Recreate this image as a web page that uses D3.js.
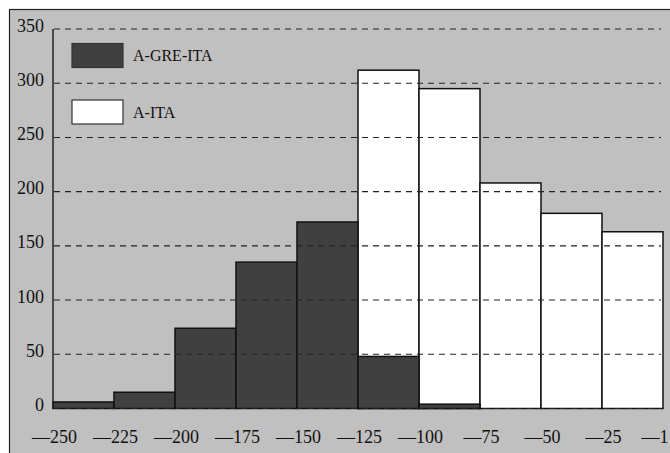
<!DOCTYPE html>
<html lang="en">
  <head>
    <meta charset="utf-8">
    <title>Histogram</title>
    <script src="https://cdn.jsdelivr.net/npm/d3@7"></script>
    <style>
      body { margin: 0; background: #fff; }
      svg { display: block; }
      text { font-family: 'Liberation Serif', 'Times New Roman', serif; fill: #111; }
    </style>
  </head>
  <body>
    <div id='chart'></div>

    <script type='text/javascript'>
      // bin left edges (width 25)
      let binStarts = [-250, -225, -200, -175, -150, -125, -100, -75, -50, -25];
      let greIta = [6, 15, 74, 135, 172, 48, 4, 0, 0, 0];
      let ita = [0, 0, 0, 0, 0, 312, 295, 208, 180, 163];
      let xTicks = [-250, -225, -200, -175, -150, -125, -100, -75, -50, -25, 0];
      let xTickLabels = ['—250', '—225', '—200', '—175', '—150', '—125', '—100', '—75', '—50', '—25', '—1'];
      let yTicks = [0, 50, 100, 150, 200, 250, 300, 350];
      let seriesNames = ['A-GRE-ITA', 'A-ITA'];
      let binWidth = 25;

      let width = 670, height = 453;
      let svg = d3.select('#chart').append('svg')
        .attr('width', width)
        .attr('height', height);

      // outer frame
      svg.append('rect')
        .attr('x', 9.5).attr('y', 9.5)
        .attr('width', 700).attr('height', 500)
        .attr('fill', '#c0c0c0')
        .attr('stroke', '#222')
        .attr('stroke-width', 1.2);

      let x = d3.scaleLinear().domain([-250, 0]).range([53, 663]);
      let y = d3.scaleLinear().domain([0, 350]).range([408.5, 29]);

      // white series behind, dark series in front
      svg.append('g').selectAll('rect')
        .data(binStarts.map((s, i) => ({s: s, v: ita[i]})).filter(d => d.v > 0))
        .enter().append('rect')
        .attr('x', d => x(d.s))
        .attr('y', d => y(d.v))
        .attr('width', d => x(d.s + binWidth) - x(d.s))
        .attr('height', d => y(0) - y(d.v))
        .attr('fill', '#fff')
        .attr('stroke', '#111')
        .attr('stroke-width', 1.5);

      svg.append('g').selectAll('rect')
        .data(binStarts.map((s, i) => ({s: s, v: greIta[i]})).filter(d => d.v > 0))
        .enter().append('rect')
        .attr('x', d => x(d.s))
        .attr('y', d => y(d.v))
        .attr('width', d => x(d.s + binWidth) - x(d.s))
        .attr('height', d => y(0) - y(d.v))
        .attr('fill', '#404040')
        .attr('stroke', '#111')
        .attr('stroke-width', 1.5);

      // dashed grid on top of the bars
      svg.append('g').selectAll('line')
        .data(yTicks)
        .enter().append('line')
        .attr('x1', 54).attr('x2', 661)
        .attr('y1', d => y(d)).attr('y2', d => y(d))
        .attr('stroke', '#222')
        .attr('stroke-width', 1.1)
        .attr('stroke-dasharray', '6,5');

      // y axis line
      svg.append('line')
        .attr('x1', 53).attr('x2', 53)
        .attr('y1', y(350)).attr('y2', y(0))
        .attr('stroke', '#222')
        .attr('stroke-width', 1.5);

      svg.append('g').selectAll('text')
        .data(yTicks)
        .enter().append('text')
        .attr('x', 44)
        .attr('y', d => y(d) + 2.5)
        .attr('text-anchor', 'end')
        .attr('font-size', 18)
        .text(d => d);

      svg.append('g').selectAll('text')
        .data(xTicks)
        .enter().append('text')
        .attr('x', d => Math.min(x(d) + 1.5, width - 15))
        .attr('y', 443)
        .attr('text-anchor', 'middle')
        .attr('font-size', 18)
        .text((d, i) => xTickLabels[i]);

      // legend
      let legend = svg.append('g').selectAll('g')
        .data(seriesNames)
        .enter().append('g')
        .attr('transform', (d, i) => 'translate(72,' + (43.5 + i * 56.5) + ')');

      legend.append('rect')
        .attr('width', 51).attr('height', 24)
        .attr('fill', (d, i) => i == 0 ? '#404040' : '#fff')
        .attr('stroke', '#333')
        .attr('stroke-width', 1.2);

      legend.append('text')
        .attr('x', 61)
        .attr('y', 17.5)
        .attr('font-size', 16)
        .text(d => d);
    </script>
  </body>
</html>
